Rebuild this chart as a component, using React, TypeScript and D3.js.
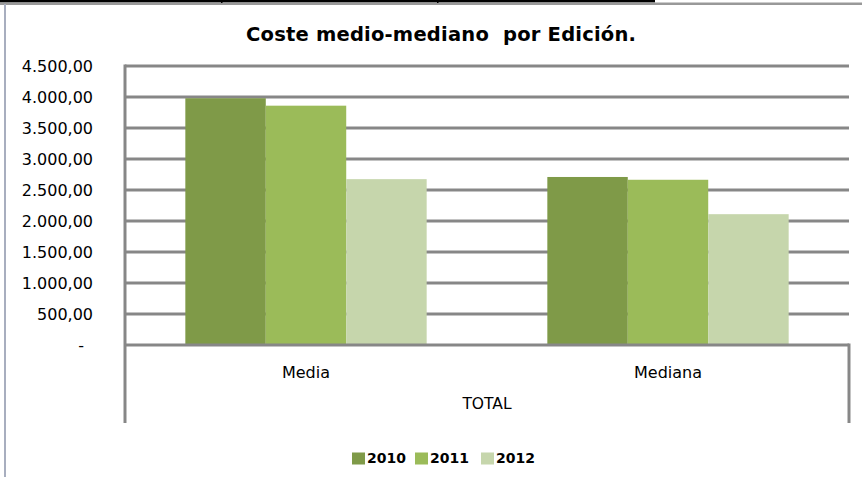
import React from "react";
import * as d3 from "d3";

const categories = ["Media", "Mediana"];
const series = ["2010", "2011", "2012"];
const values2010 = [3980, 2710];
const values2011 = [3860, 2665];
const values2012 = [2675, 2110];
const yTicks = [0, 500, 1000, 1500, 2000, 2500, 3000, 3500, 4000, 4500];
const colors = ["#7F9A48", "#9BBB59", "#C6D6AC"];
const title = "Coste medio-mediano  por Edición.";
const groupLabel = "TOTAL";

const W = 862;
const H = 477;
const left = 125;
const right = 849;
const top = 66;
const bottom = 345;

export default function App() {
  const data = [values2010, values2011, values2012];
  const x0 = d3.scaleBand().domain(categories).range([left, right]).paddingInner(0).paddingOuter(0);
  const bw = x0.bandwidth();
  const groupW = bw * (3 / 4.5);
  const x1 = d3.scaleBand().domain(series).range([0, groupW]).padding(0);
  const y = d3.scaleLinear().domain([0, 4500]).range([bottom, top]);
  const fmt = (v: number) => {
    if (v === 0) return "-";
    const s = d3.format(",.2f")(v);
    return s.replace(/,/g, "#").replace(".", ",").replace(/#/g, ".");
  };
  const grid = "#878787";
  const font = "'DejaVu Sans', Verdana, sans-serif";
  return (
    <svg width={W} height={H} style={{ position: "absolute", left: 0, top: 0, background: "#fff" }}>
      {/* spreadsheet frame remnants */}
      <rect x={0} y={0} width={655} height={2.5} fill="#000" />
      <rect x={0} y={2.5} width={862} height={2.5} fill="#999" />
      <rect x={221} y={0} width={1.5} height={3} fill="#000" />
      <rect x={437} y={0} width={1.5} height={3} fill="#000" />
      <rect x={4} y={4} width={2} height={H} fill="#A8AEBF" />

      <text
        x={441}
        y={41}
        textAnchor="middle"
        fontFamily={font}
        fontWeight="bold"
        fontSize={19.5}
        fill="#000"
        textLength={390}
        lengthAdjust="spacing"
        style={{ whiteSpace: "pre" }}
      >
        {title}
      </text>

      {yTicks.map((t) => (
        <g key={t}>
          {t > 0 && (
            <line x1={left} x2={right} y1={y(t)} y2={y(t)} stroke={grid} strokeWidth={3} />
          )}
          <text x={t === 0 ? 84 : 93} y={y(t) + 6} textAnchor="end" fontFamily={font} fontSize={16} fill="#000">
            {fmt(t)}
          </text>
        </g>
      ))}

      {categories.map((c, ci) => (
        <g key={c}>
          {series.map((s, si) => {
            const v = data[si][ci];
            const bx = (x0(c) as number) + (bw - groupW) / 2 + (x1(s) as number);
            return (
              <rect key={s} x={bx} y={y(v)} width={x1.bandwidth()} height={bottom - y(v)} fill={colors[si]} />
            );
          })}
          <text x={(x0(c) as number) + bw / 2} y={378} textAnchor="middle" fontFamily={font} fontSize={16} fill="#000">
            {c}
          </text>
        </g>
      ))}

      <line x1={left} x2={right} y1={bottom} y2={bottom} stroke={grid} strokeWidth={3} />
      <line x1={left} x2={left} y1={top - 1.5} y2={423} stroke={grid} strokeWidth={3} />
      <line x1={right} x2={right} y1={bottom - 1.5} y2={423} stroke={grid} strokeWidth={3} />
      <text x={(left + right) / 2} y={409} textAnchor="middle" fontFamily={font} fontSize={15.5} fill="#000">
        {groupLabel}
      </text>

      {series.map((s, i) => {
        const lx = [352, 415, 481][i];
        return (
          <g key={s}>
            <rect x={lx} y={452.5} width={13} height={12} fill={colors[i]} />
            <text x={lx + 15} y={463} fontFamily={font} fontWeight="bold" fontSize={14} fill="#000">
              {s}
            </text>
          </g>
        );
      })}
    </svg>
  );
}
